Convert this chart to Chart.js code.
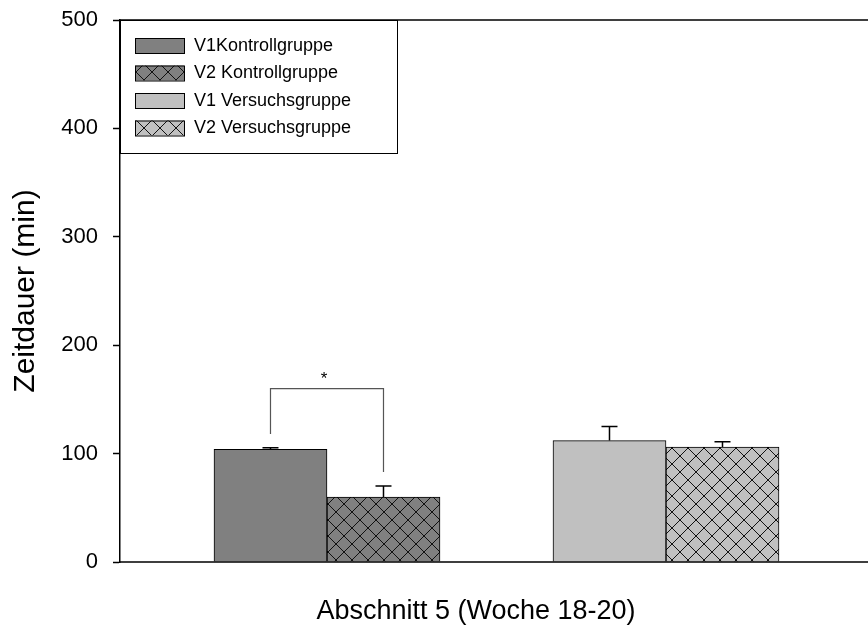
<!DOCTYPE html>
<html>
<head>
<meta charset="utf-8">
<script src="https://cdn.jsdelivr.net/npm/chart.js@4/dist/chart.umd.min.js"></script>
<style>
  body { margin: 0; background: #fff; }
  canvas { display: block; }
</style>
</head>
<body>
<canvas id="chart" width="868" height="637"></canvas>
<script>
// Daten
var categories = ['Kontrollgruppe', 'Versuchsgruppe'];
var seriesLabels = ['V1Kontrollgruppe', 'V2 Kontrollgruppe', 'V1 Versuchsgruppe', 'V2 Versuchsgruppe'];
var v1Kontroll = [104, null];
var v2Kontroll = [60, null];
var v1Versuch = [null, 112];
var v2Versuch = [null, 106];
// Fehlerbalken (nur nach oben)
var errV1Kontroll = [1.5, null];
var errV2Kontroll = [10, null];
var errV1Versuch = [null, 13];
var errV2Versuch = [null, 5];
var yTicks = [0, 100, 200, 300, 400, 500];
// Signifikanzklammer zwischen V1 und V2 Kontrollgruppe
var sigBracket = { group: 0, from: 0, to: 1, top: 160, leftEnd: 118, rightEnd: 83, label: '*' };

var FONT = "'Liberation Sans', Arial, sans-serif";
var DARK = '#808080';
var LIGHT = '#c0c0c0';

// Schraffur (Kreuzmuster)
function crossPattern(color) {
    var c = document.createElement('canvas');
    c.width = 16; c.height = 16;
    var g = c.getContext('2d');
    g.fillStyle = color;
    g.fillRect(0, 0, 16, 16);
    g.strokeStyle = '#111';
    g.lineWidth = 1;
    g.beginPath();
    g.moveTo(0, 0); g.lineTo(16, 16);
    g.moveTo(16, 0); g.lineTo(0, 16);
    g.stroke();
    return g.createPattern(c, 'repeat');
}

function toPoints(values) {
    var pts = [];
    values.forEach(function (v, i) { if (v !== null) pts.push({ x: i, y: v }); });
    return pts;
}

var errors = [errV1Kontroll, errV2Kontroll, errV1Versuch, errV2Versuch];

var datasets = [
    { label: seriesLabels[0], data: toPoints(v1Kontroll), backgroundColor: DARK, stack: 'V1' },
    { label: seriesLabels[1], data: toPoints(v2Kontroll), backgroundColor: crossPattern(DARK), stack: 'V2' },
    { label: seriesLabels[2], data: toPoints(v1Versuch), backgroundColor: LIGHT, stack: 'V1' },
    { label: seriesLabels[3], data: toPoints(v2Versuch), backgroundColor: crossPattern(LIGHT), stack: 'V2' }
];
datasets.forEach(function (d) {
    d.borderColor = '#000';
    d.borderWidth = 1;
    d.barThickness = 113;
});

// Fehlerbalken, Klammer, Rahmenlinien
var extras = {
    id: 'extras',
    afterDatasetsDraw: function (chart) {
        var ctx = chart.ctx;
        var y = chart.scales.y;
        var area = chart.chartArea;
        ctx.save();
        ctx.strokeStyle = '#000';
        ctx.lineWidth = 1.5;
        // Fehlerbalken
        chart.data.datasets.forEach(function (ds, i) {
            var meta = chart.getDatasetMeta(i);
            meta.data.forEach(function (el, k) {
                var p = meta.controller.getParsed(k);
                var e = errors[i][p.x];
                if (e === null || e === undefined) return;
                var yt = y.getPixelForValue(p.y + e);
                ctx.beginPath();
                ctx.moveTo(el.x, el.y);
                ctx.lineTo(el.x, yt);
                ctx.moveTo(el.x - 8, yt);
                ctx.lineTo(el.x + 8, yt);
                ctx.stroke();
            });
        });
        // Signifikanzklammer
        var a = chart.getDatasetMeta(sigBracket.from).data[sigBracket.group];
        var b = chart.getDatasetMeta(sigBracket.to).data[sigBracket.group];
        var yTop = y.getPixelForValue(sigBracket.top);
        ctx.strokeStyle = '#555';
        ctx.lineWidth = 1.2;
        ctx.beginPath();
        ctx.moveTo(a.x, y.getPixelForValue(sigBracket.leftEnd));
        ctx.lineTo(a.x, yTop);
        ctx.lineTo(b.x, yTop);
        ctx.lineTo(b.x, y.getPixelForValue(sigBracket.rightEnd));
        ctx.stroke();
        ctx.fillStyle = '#000';
        ctx.font = '17px ' + FONT;
        ctx.textAlign = 'center';
        ctx.textBaseline = 'bottom';
        ctx.fillText(sigBracket.label, (a.x + b.x) / 2 - 3, yTop - 1);
        // obere und untere Linie bis zum Rand
        ctx.strokeStyle = '#000';
        ctx.lineWidth = 1.5;
        ctx.beginPath();
        ctx.moveTo(area.left, y.getPixelForValue(yTicks[0]));
        ctx.lineTo(chart.width, y.getPixelForValue(yTicks[0]));
        ctx.moveTo(area.left, y.getPixelForValue(yTicks[yTicks.length - 1]));
        ctx.lineTo(chart.width, y.getPixelForValue(yTicks[yTicks.length - 1]));
        ctx.stroke();
        ctx.restore();
    }
};

// Legende mit Rahmen
var boxLegend = {
    id: 'boxLegend',
    afterDraw: function (chart) {
        var ctx = chart.ctx;
        var area = chart.chartArea;
        var left = area.left, top = area.top;
        ctx.save();
        ctx.fillStyle = '#fff';
        ctx.fillRect(left, top, 278, 133);
        ctx.strokeStyle = '#000';
        ctx.lineWidth = 1;
        ctx.strokeRect(left + 0.5, top + 0.5, 277, 133);
        ctx.font = '18px ' + FONT;
        ctx.textAlign = 'left';
        ctx.textBaseline = 'middle';
        chart.data.datasets.forEach(function (ds, i) {
            var sy = top + 18 + i * 27.5;
            ctx.fillStyle = ds.backgroundColor;
            ctx.fillRect(left + 15, sy, 49, 15);
            ctx.strokeStyle = '#000';
            ctx.strokeRect(left + 15.5, sy + 0.5, 49, 15);
            ctx.fillStyle = '#000';
            ctx.fillText(ds.label, left + 74, sy + 8);
        });
        ctx.restore();
    }
};

var ctx = document.getElementById('chart').getContext('2d');
var chart = new Chart(ctx, {
    type: 'bar',
    data: { datasets: datasets },
    options: {
        responsive: false,
        animation: false,
        layout: { padding: { top: 20, right: 36, left: 0, bottom: 0 } },
        plugins: {
            legend: { display: false },
            tooltip: { enabled: false }
        },
        scales: {
            x: {
                type: 'linear',
                offset: false,
                min: -0.6106,
                max: 1.4897,
                ticks: { display: false },
                grid: { display: false },
                border: { display: false },
                title: {
                    display: true,
                    text: 'Abschnitt 5 (Woche 18-20)',
                    color: '#000',
                    font: { family: FONT, size: 27 },
                    padding: { top: 0, bottom: 9 }
                },
                afterFit: function (scale) {
                    scale.height = 75;
                    scale.paddingLeft = 0;
                    scale.paddingRight = 0;
                }
            },
            y: {
                stacked: false,
                min: yTicks[0],
                max: yTicks[yTicks.length - 1],
                ticks: {
                    stepSize: 100,
                    color: '#000',
                    padding: 15,
                    font: { family: FONT, size: 22 }
                },
                grid: {
                    display: true,
                    drawOnChartArea: false,
                    drawTicks: true,
                    tickLength: 7,
                    tickWidth: 1.5,
                    color: '#000'
                },
                border: { display: true, color: '#000', width: 1.5 },
                title: {
                    display: true,
                    text: 'Zeitdauer (min)',
                    color: '#000',
                    font: { family: FONT, size: 30 },
                    padding: { top: 8, bottom: 0 }
                },
                afterFit: function (scale) {
                    scale.width = 120;
                    scale.paddingTop = 0;
                    scale.paddingBottom = 0;
                }
            }
        }
    },
    plugins: [extras, boxLegend]
});
</script>
</body>
</html>
